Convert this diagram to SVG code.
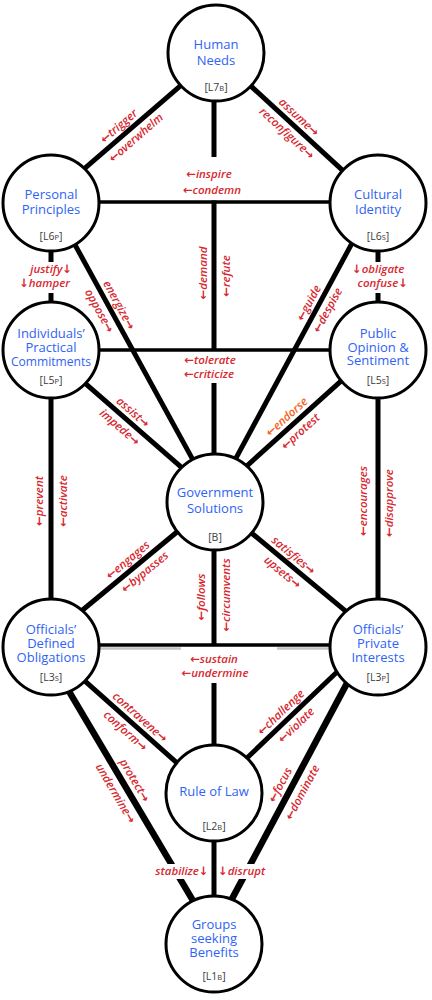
<svg xmlns="http://www.w3.org/2000/svg" width="432" height="1000" viewBox="0 0 432 1000">
<style>
.ed{stroke:#000;stroke-width:5;fill:none;stroke-linecap:butt}
.hz{stroke:#000;stroke-width:3.6;fill:none}
.tk{stroke:#000;stroke-width:6.5;fill:none}
.gr{stroke:#c4c4c4;stroke-width:2.5;fill:none}
.nd circle{fill:#fff;stroke:#000;stroke-width:3}
.nt{font-family:"Open Sans","Noto Sans",sans-serif;font-size:13px;fill:#2f63f5;text-anchor:middle}
.lv{font-family:"Open Sans","Noto Sans",sans-serif;font-size:10.5px;fill:#3a3a3a;text-anchor:middle}
.sc{font-size:7.5px}
.lb{font-family:"Open Sans","DejaVu Sans",sans-serif;font-style:italic;font-weight:600;font-size:11.5px;fill:#d7282f;text-anchor:middle}
.st{text-anchor:start}
.en{text-anchor:end}
.or{fill:#f26522}
.bg{fill:#fff}
</style>
<g id="connectors">
<line class="ed" x1="181.8" y1="84.7" x2="81.2" y2="171.3"/>
<line class="ed" x1="249.3" y1="84.6" x2="343.7" y2="171.4"/>
<line class="ed" x1="214" y1="98" x2="214" y2="157"/>
<line class="hz" x1="96" y1="202" x2="333" y2="202"/>
<line class="ed" x1="214" y1="200.5" x2="214" y2="350"/>
<line class="ed" x1="51" y1="245" x2="51" y2="262"/>
<line class="ed" x1="51" y1="293" x2="51" y2="306"/>
<line class="ed" x1="378" y1="245" x2="378" y2="262"/>
<line class="ed" x1="378" y1="293" x2="378" y2="306"/>
<line class="ed" x1="71.6" y1="238.6" x2="195.4" y2="464.4"/>
<line class="ed" x1="353.4" y1="240.6" x2="232.6" y2="464.4"/>
<line class="hz" x1="96" y1="350" x2="333" y2="350"/>
<line class="ed" x1="214" y1="383" x2="214" y2="458"/>
<line class="ed" x1="83.2" y1="381.7" x2="183.8" y2="469.3"/>
<line class="ed" x1="343.7" y1="378.7" x2="245.3" y2="467.3"/>
<line class="ed" x1="51" y1="395" x2="51" y2="602"/>
<line class="ed" x1="378" y1="395" x2="378" y2="602"/>
<line class="ed" x1="180.9" y1="528.8" x2="81.1" y2="611.2"/>
<line class="ed" x1="245.2" y1="527.8" x2="346.9" y2="612.2"/>
<line class="ed" x1="214" y1="547" x2="214" y2="646"/>
<line class="ed" x1="214" y1="683" x2="214" y2="750"/>
<line class="gr" x1="99" y1="648.5" x2="181" y2="648.5"/>
<line class="gr" x1="277" y1="648.5" x2="330" y2="648.5"/>
<line class="hz" x1="96" y1="645" x2="333" y2="645"/>
<line class="ed" x1="83.3" y1="679.7" x2="179.7" y2="765.3"/>
<line class="ed" x1="339.6" y1="669.5" x2="244.4" y2="760.5"/>
<line class="tk" x1="67.4" y1="688.7" x2="194.6" y2="903.3"/>
<line class="tk" x1="348.4" y1="680.6" x2="229.6" y2="903.4"/>
<line class="ed" x1="214" y1="838" x2="214" y2="899"/>
</g>
<g id="n-human-needs" class="nd">
<circle cx="216" cy="53" r="48"/>
<text class="nt" x="216" y="49">Human</text>
<text class="nt" x="216" y="65">Needs</text>
<text class="lv" x="216" y="91">[L7<tspan class="sc">B</tspan>]</text>
</g>
<g id="n-personal-principles" class="nd">
<circle cx="51" cy="203" r="48"/>
<text class="nt" x="51" y="199">Personal</text>
<text class="nt" x="51" y="214">Principles</text>
<text class="lv" x="51" y="240">[L6<tspan class="sc">P</tspan>]</text>
</g>
<g id="n-cultural-identity" class="nd">
<circle cx="378" cy="203" r="48"/>
<text class="nt" x="378" y="199">Cultural</text>
<text class="nt" x="378" y="214">Identity</text>
<text class="lv" x="378" y="240">[L6<tspan class="sc">S</tspan>]</text>
</g>
<g id="n-individuals-commitments" class="nd">
<circle cx="51" cy="350" r="48"/>
<text class="nt" x="51" y="338">Individuals’</text>
<text class="nt" x="51" y="352">Practical</text>
<text class="nt" x="51" y="366" textLength="80" lengthAdjust="spacingAndGlyphs">Commitments</text>
<text class="lv" x="51" y="384">[L5<tspan class="sc">P</tspan>]</text>
</g>
<g id="n-public-opinion" class="nd">
<circle cx="378" cy="350" r="48"/>
<text class="nt" x="378" y="338">Public</text>
<text class="nt" x="378" y="352">Opinion &amp;</text>
<text class="nt" x="378" y="365">Sentiment</text>
<text class="lv" x="378" y="384">[L5<tspan class="sc">S</tspan>]</text>
</g>
<g id="n-government-solutions" class="nd">
<circle cx="215" cy="502" r="48"/>
<text class="nt" x="215" y="497">Government</text>
<text class="nt" x="215" y="513">Solutions</text>
<text class="lv" x="215" y="541">[B]</text>
</g>
<g id="n-officials-obligations" class="nd">
<circle cx="51" cy="647" r="48"/>
<text class="nt" x="51" y="634">Officials’</text>
<text class="nt" x="51" y="648">Defined</text>
<text class="nt" x="51" y="662">Obligations</text>
<text class="lv" x="51" y="681">[L3<tspan class="sc">S</tspan>]</text>
</g>
<g id="n-officials-interests" class="nd">
<circle cx="378" cy="647" r="48"/>
<text class="nt" x="378" y="634">Officials’</text>
<text class="nt" x="378" y="648">Private</text>
<text class="nt" x="378" y="662">Interests</text>
<text class="lv" x="378" y="681">[L3<tspan class="sc">P</tspan>]</text>
</g>
<g id="n-rule-of-law" class="nd">
<circle cx="214" cy="793" r="48"/>
<text class="nt" x="214" y="796">Rule of Law</text>
<text class="lv" x="214" y="830">[L2<tspan class="sc">B</tspan>]</text>
</g>
<g id="n-groups-benefits" class="nd">
<circle cx="214" cy="944" r="48"/>
<text class="nt" x="214" y="929">Groups</text>
<text class="nt" x="214" y="943">seeking</text>
<text class="nt" x="214" y="957">Benefits</text>
<text class="lv" x="214" y="980">[L1<tspan class="sc">B</tspan>]</text>
</g>
<g id="edge-labels">
<text class="lb" transform="translate(119.3,126.6) rotate(-41)" y="3.2">←trigger</text>
<text class="lb" transform="translate(136.4,138.3) rotate(-41)" y="3.2">←overwhelm</text>
<text class="lb" transform="translate(298.5,117.6) rotate(42.6)" y="3.2">assume→</text>
<text class="lb" transform="translate(286.4,133.7) rotate(42.6)" y="3.2">reconfigure→</text>
<text class="lb" x="209" y="178">←inspire</text>
<text class="lb" x="212" y="194">←condemn</text>
<text class="lb" transform="translate(204,273) rotate(-90)" y="3.2">←demand</text>
<text class="lb" transform="translate(227,276) rotate(-90)" y="3.2">←refute</text>
<text class="lb en" x="72" y="273">justify↓</text>
<text class="lb en" x="70" y="287">↓hamper</text>
<text class="lb st" x="352" y="273">↓obligate</text>
<text class="lb en" x="408" y="287">confuse↓</text>
<text class="lb" transform="translate(118.5,305.3) rotate(61.3)" y="3.2">energize→</text>
<text class="lb" transform="translate(98.8,311.1) rotate(61.3)" y="3.2">oppose→</text>
<text class="lb" transform="translate(309.3,303.3) rotate(-61.6)" y="3.2">←guide</text>
<text class="lb" transform="translate(328.1,310.6) rotate(-61.6)" y="3.2">←despise</text>
<text class="lb" x="210" y="364">←tolerate</text>
<text class="lb" x="209" y="378">←criticize</text>
<text class="lb" transform="translate(132.5,412.7) rotate(41)" y="3.2">assist→</text>
<text class="lb" transform="translate(119.3,427.7) rotate(41)" y="3.2">impede→</text>
<text class="lb or" transform="translate(287.2,417.4) rotate(-42)" y="3.2">←endorse</text>
<text class="lb" transform="translate(300.9,432.1) rotate(-42)" y="3.2">←protest</text>
<text class="lb" transform="translate(40,501) rotate(-90)" y="3.2">←prevent</text>
<text class="lb" transform="translate(64,501) rotate(-90)" y="3.2">←activate</text>
<text class="lb" transform="translate(364,501) rotate(-90)" y="3.2">←encourages</text>
<text class="lb" transform="translate(390,503) rotate(-90)" y="3.2">←disapprove</text>
<text class="lb" transform="translate(128.3,560.6) rotate(-39.6)" y="3.2">←engages</text>
<text class="lb" transform="translate(145.3,572.5) rotate(-39.6)" y="3.2">←bypasses</text>
<text class="lb" transform="translate(293.1,555.9) rotate(39.7)" y="3.2">satisfies→</text>
<text class="lb" transform="translate(282.1,572.8) rotate(39.7)" y="3.2">upsets→</text>
<text class="lb" transform="translate(202,597) rotate(-90)" y="3.2">←follows</text>
<text class="lb" transform="translate(226.5,595) rotate(-90)" y="3.2">←circumvents</text>
<text class="lb" x="214" y="663">←sustain</text>
<text class="lb" x="215" y="677">←undermine</text>
<text class="lb" transform="translate(139.6,717.7) rotate(41.6)" y="3.2">contravene→</text>
<text class="lb" transform="translate(124.9,731.3) rotate(41.6)" y="3.2">conform→</text>
<text class="lb" transform="translate(281.3,712.8) rotate(-43.7)" y="3.2">←challenge</text>
<text class="lb" transform="translate(296.7,725.7) rotate(-43.7)" y="3.2">←violate</text>
<text class="lb" transform="translate(134.1,780.7) rotate(59.4)" y="3.2">protect→</text>
<text class="lb" transform="translate(115,793.6) rotate(59.4)" y="3.2">undermine→</text>
<text class="lb" transform="translate(280.7,785.2) rotate(-61.9)" y="3.2">←focus</text>
<text class="lb" transform="translate(302.8,792.7) rotate(-61.9)" y="3.2">←dominate</text>
<rect class="bg" x="150" y="864" width="59.5" height="15"/>
<rect class="bg" x="218.5" y="864" width="54" height="15"/>
<text class="lb en" x="208.5" y="875">stabilize↓</text>
<text class="lb st" x="218" y="875">↓disrupt</text>
</g>
</svg>
